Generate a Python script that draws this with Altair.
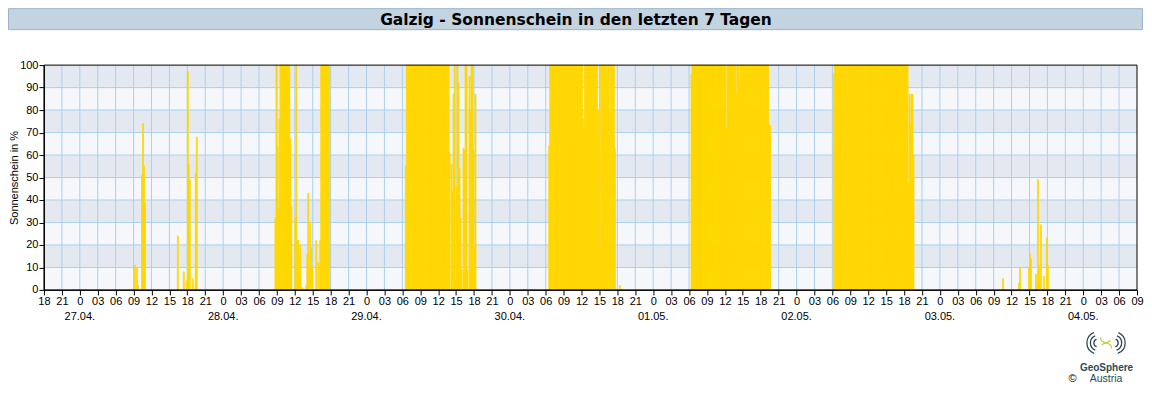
import altair as alt
import pandas as pd

# ---------------- data (10-minute sunshine values, % of interval) ----------------
title_text = "Galzig - Sonnenschein in den letzten 7 Tagen"
y_title = "Sonnenschein in %"

sun_0427a_start = "2025-04-27T09:10"
sun_0427a = [11, 0, 10, 2, 0, 0, 0, 51, 74, 55, 39]

sun_0427b_start = "2025-04-27T16:20"
sun_0427b = [24, 0, 0, 0, 0, 0, 8, 0, 0, 4, 97, 56, 49, 0, 0, 5, 0, 0, 52, 68]

sun_0428_start = "2025-04-28T08:40"
sun_0428 = [32, 100, 64, 36, 76,
            100, 100, 100, 100, 100, 100, 100, 100, 100, 100,
            67, 37, 0, 0, 0, 32, 100, 22, 22, 7, 20, 0, 1, 0, 0, 0,
            2, 16, 43, 10, 30, 19, 10, 0, 0, 0, 22, 0, 12, 0, 22,
            100, 100, 100, 100, 100, 100, 100, 100, 99]

sun_0429_start = "2025-04-29T06:30"
sun_0429 = [55,
            100, 100, 100, 100, 100, 100, 100, 100, 100, 100,
            100, 100, 100, 100, 100, 100, 100, 100, 100, 100,
            100, 100, 100, 100, 100, 100, 100, 100, 100, 100,
            100, 100, 100, 100, 100, 100, 100, 100, 100, 100,
            100, 100, 100,
            61, 0, 56, 44, 87, 100, 4, 46, 100, 92, 54, 32, 9, 0,
            63, 62, 100, 100, 9, 0, 95, 80, 100, 100, 62, 19, 87]

sun_0430_start = "2025-04-30T06:30"
sun_0430 = [64,
            100, 100, 100, 100, 100, 100, 100, 100, 100, 100,
            100, 100, 100, 100, 100, 100, 100, 100, 100, 100,
            100, 100, 100, 100, 100, 100, 100, 100, 100, 100,
            100, 100, 100,
            76, 71,
            100, 100, 100, 100, 100, 100, 100, 100, 100, 100,
            100, 100, 100,
            80, 67, 20,
            100, 100, 100, 100, 100, 100, 96, 100, 100, 79,
            100, 100, 100, 100, 63, 0, 0, 0, 0, 2]

sun_0501_start = "2025-05-01T06:20"
sun_0501 = [96,
            100, 100, 100, 100, 100, 100, 100, 100, 100, 100,
            100, 100, 100, 100, 100, 100, 100, 100, 100, 100,
            100, 100, 100, 100, 100, 100, 100, 100, 100, 100,
            100, 100, 100, 100,
            72,
            100, 100, 100, 100, 100, 100, 100, 100, 100,
            88, 100, 100, 93,
            100, 100, 100, 100, 100, 100, 100, 100, 100, 100,
            100, 100, 100, 100, 100, 100, 100, 100, 100, 100,
            100, 100, 100, 100, 100, 100, 100, 100, 100,
            73, 73]

sun_0502_start = "2025-05-02T06:10"
sun_0502 = [96,
            100, 100, 100, 100, 100, 100, 100, 100, 100, 100,
            100, 100, 100, 100, 100, 100, 100, 100, 100, 100,
            100, 100, 100, 100, 100, 100, 100, 100, 100, 100,
            100, 100, 100, 100, 100, 100, 100, 100, 100, 100,
            100, 100, 100, 100, 100, 100, 100, 100, 100, 100,
            100, 100, 100, 100, 100, 100, 100, 100, 100, 100,
            100, 100, 100, 100, 100, 100, 100, 100, 100, 100,
            100, 100, 100, 100,
            48, 87, 74, 87, 87, 60]

sun_0503a_start = "2025-05-03T10:30"
sun_0503a = [5]
sun_0503b_start = "2025-05-03T13:10"
sun_0503b = [3, 10]
sun_0503c_start = "2025-05-03T14:50"
sun_0503c = [10, 16, 14, 0, 0, 0, 0, 7, 2, 49, 11, 2, 29, 0, 0, 6, 0, 0, 23, 11]

y_ticks = [0, 10, 20, 30, 40, 50, 60, 70, 80, 90, 100]
band_lo = [10, 30, 50, 70, 90]
axis_start = "2025-04-26 18:00"
axis_end = "2025-05-04 09:00"

# ---------------- build tables ----------------
episodes = [(sun_0427a_start, sun_0427a), (sun_0427b_start, sun_0427b),
            (sun_0428_start, sun_0428), (sun_0429_start, sun_0429),
            (sun_0430_start, sun_0430), (sun_0501_start, sun_0501),
            (sun_0502_start, sun_0502), (sun_0503a_start, sun_0503a),
            (sun_0503b_start, sun_0503b), (sun_0503c_start, sun_0503c)]

FMT = "%Y-%m-%dT%H:%M:00Z"
rows = []
for start, vals in episodes:
    t0 = pd.Timestamp(start)
    for k, v in enumerate(vals):
        if v <= 0:
            continue
        t = t0 + pd.Timedelta(minutes=10 * k)
        rows.append({"t": t.strftime(FMT),
                     "t2": (t + pd.Timedelta(minutes=10)).strftime(FMT),
                     "v": v})
bars_df = pd.DataFrame(rows)

tick_t = pd.date_range(axis_start, axis_end, freq="3h")
tick_vals = [alt.DateTime(year=g.year, month=g.month, date=g.day, hours=g.hour, utc=True)
             for g in tick_t]
vgrid_df = pd.DataFrame({"t": [g.strftime(FMT) for g in tick_t[1:-1]]})
mid_t = [g for g in tick_t if g.hour == 0]
dates_df = pd.DataFrame({"t": [g.strftime(FMT) for g in mid_t],
                         "label": [g.strftime("%d.%m.") for g in mid_t]})
hgrid_df = pd.DataFrame({"v": y_ticks[1:-1]})
bands_df = pd.DataFrame({"v": band_lo, "v2": [b + 10 for b in band_lo]})
one_df = pd.DataFrame({"a": [0]})
title_df = pd.DataFrame({"label": [title_text]})

# ---------------- layout ----------------
W, H = 1094, 225
FONT = "Liberation Sans"
GRID = "#a9d1ef"
GOLD = "#FFD700"
TEAL = "#2c4a56"

ts, te = pd.Timestamp(axis_start), pd.Timestamp(axis_end)
xscale = alt.Scale(type="utc",
                   domain=[alt.DateTime(year=ts.year, month=ts.month, date=ts.day, hours=ts.hour, utc=True),
                           alt.DateTime(year=te.year, month=te.month, date=te.day, hours=te.hour, utc=True)])
xaxis = alt.Axis(title="", grid=False, values=tick_vals,
                 labelExpr="utchours(datum.value) == 0 ? '0' : utcFormat(datum.value, '%H')",
                 labelOverlap=False, labelFlush=False,
                 labelFont=FONT, labelFontSize=11, labelColor="#000", labelPadding=1,
                 tickColor="#000", tickSize=5, domainColor="#000", zindex=1)
xenc = alt.X("t:T", scale=xscale, axis=xaxis)

yscale = alt.Scale(domain=[0, 100], nice=False, padding=0)
yaxis = alt.Axis(title=y_title, grid=False, values=y_ticks,
                 labelFont=FONT, labelFontSize=11, labelColor="#000", labelPadding=1,
                 titleFont=FONT, titleFontSize=11, titleFontWeight="normal",
                 titleColor="#000", titlePadding=0.5,
                 tickColor="#000", tickSize=5, domainColor="#000", zindex=1)
yenc = alt.Y("v:Q", scale=yscale, axis=yaxis)

bg = alt.Chart(one_df).mark_rect(color="#f5f7fa").encode(
    x=alt.value(0), x2=alt.value(W), y=alt.value(0), y2=alt.value(H))
bands = alt.Chart(bands_df).mark_rect(color="#e4e9f1").encode(
    x=alt.value(0), x2=alt.value(W), y=yenc, y2="v2:Q")
hgrid = alt.Chart(hgrid_df).mark_rule(color=GRID, strokeWidth=1).encode(y=yenc)
vgrid = alt.Chart(vgrid_df).mark_rule(color=GRID, strokeWidth=1).encode(x=xenc)
bars = alt.Chart(bars_df).mark_rect(color=GOLD, stroke=GOLD, strokeWidth=0.75).encode(
    x=xenc, x2="t2:T", y=yenc, y2=alt.datum(0))
border = alt.Chart(one_df).mark_rect(filled=False, stroke="#000", strokeWidth=1).encode(
    x=alt.value(0), x2=alt.value(W), y=alt.value(0), y2=alt.value(H))
dates = alt.Chart(dates_df).mark_text(font=FONT, fontSize=11, color="#000",
                                      baseline="middle").encode(
    x=xenc, y=alt.value(H + 27), text="label:N")

geo = alt.Chart(one_df).mark_text(text="GeoSphere", font=FONT, fontSize=10,
                                  fontWeight="bold", color=TEAL).encode(
    x=alt.value(1063.5), y=alt.value(303.5))
aut = alt.Chart(one_df).mark_text(text="Austria", font=FONT, fontSize=10.5,
                                  color=TEAL).encode(
    x=alt.value(1063), y=alt.value(314.5))
copy = alt.Chart(one_df).mark_text(text="©", font=FONT, fontSize=11,
                                   color="#000").encode(
    x=alt.value(1029.5), y=alt.value(314.5))

# small logo drawing (decoration): arcs left and right, a green swirl in the middle
logo = []
for r in (3.5, 7.0, 10.5):
    logo.append(alt.Chart(one_df).mark_arc(x=1055, y=278, radius=r, radius2=r + 1.3,
                                           theta=3.5, theta2=5.9, color=TEAL))
    logo.append(alt.Chart(one_df).mark_arc(x=1071, y=278, radius=r, radius2=r + 1.3,
                                           theta=0.4, theta2=2.8, color=TEAL))
logo.append(alt.Chart(one_df).mark_arc(x=1063, y=272, radius=5, radius2=6.3,
                                       theta=2.2, theta2=4.6, color="#c2d23e"))
logo.append(alt.Chart(one_df).mark_arc(x=1063, y=284, radius=5, radius2=6.3,
                                       theta=5.4, theta2=7.8, color="#c2d23e"))

# title bar above the plot (plot coordinates; plot origin at page (44, 65))
tbar = alt.Chart(title_df).mark_rect(fill="#c4d3e0", stroke="#9bb4ca", strokeWidth=1).encode(
    x=alt.value(-35.5), x2=alt.value(1099.5), y=alt.value(-56.5), y2=alt.value(-35.5))
ttxt = alt.Chart(title_df).mark_text(font="DejaVu Sans", fontSize=15.5, fontWeight="bold",
                                     color="#000", baseline="middle").encode(
    text="label:N", x=alt.value(532.5), y=alt.value(-45.5))

chart = alt.layer(tbar, ttxt, bg, bands, hgrid, vgrid, bars, border, dates,
                  geo, aut, copy, *logo).properties(
    width=W, height=H, padding=0).configure_view(strokeWidth=0)

chart.save("out.html", embed_options={"renderer": "svg", "actions": False})
